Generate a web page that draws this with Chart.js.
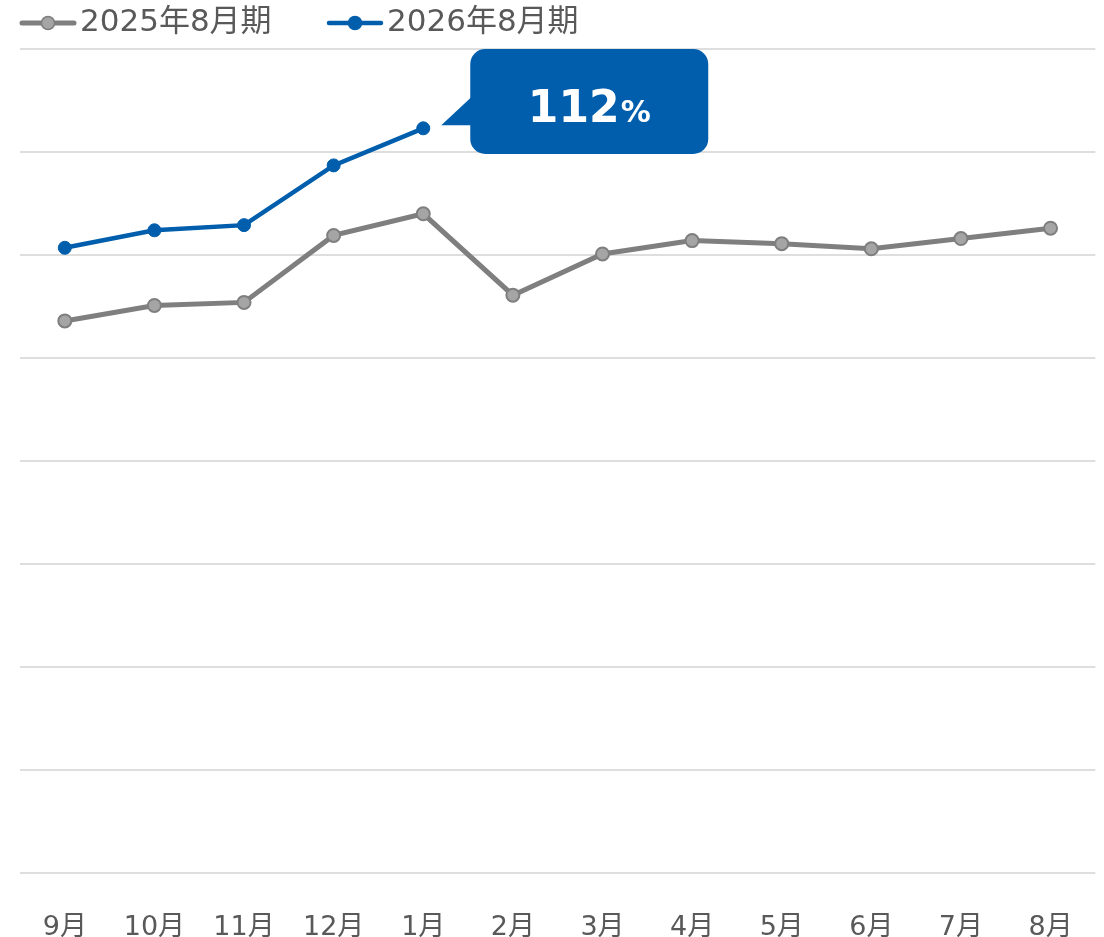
<!DOCTYPE html>
<html>
<head>
<meta charset="utf-8">
<script src="https://cdn.jsdelivr.net/npm/chart.js@4/dist/chart.umd.min.js"></script>
<style>
  html, body { margin: 0; padding: 0; background: #fff; }
  #wrap { width: 1104px; height: 937px; }
</style>
</head>
<body>
<div id="wrap"><canvas id="myChart" width="1104" height="937"></canvas></div>
<script>
const months = ["9月", "10月", "11月", "12月", "1月", "2月", "3月", "4月", "5月", "6月", "7月", "8月"];
const fy2025 = [93.6, 95.1, 95.4, 101.9, 104.0, 96.1, 100.1, 101.4, 101.1, 100.6, 101.6, 102.6];
const fy2026 = [100.7, 102.4, 102.9, 108.7, 112.3, null, null, null, null, null, null, null];
const seriesNames = ["2025年8月期", "2026年8月期"];
const yMin = 40;
const yMax = 120;
const yStep = 10;

const GRAY = "#7f7f7f";
const GRAY_FILL = "#a5a5a5";
const BLUE = "#005eac";
const TEXT = "#595959";
const FONT = "'DejaVu Sans', 'Noto Sans CJK JP', sans-serif";

// legend drawn by hand: line + dot marker, like the office chart
const legendPlugin = {
  id: "lineLegend",
  afterDraw(chart) {
    const ctx = chart.ctx;
    const items = [
      { x: 20, color: GRAY, fill: GRAY_FILL, text: seriesNames[0], lw: 5 },
      { x: 327, color: BLUE, fill: BLUE, text: seriesNames[1], lw: 4.5 },
    ];
    const y = 23;
    ctx.save();
    items.forEach((it) => {
      ctx.strokeStyle = it.color;
      ctx.lineWidth = it.lw;
      ctx.lineCap = "round";
      ctx.beginPath();
      ctx.moveTo(it.x + 2, y);
      ctx.lineTo(it.x + 54, y);
      ctx.stroke();
      ctx.beginPath();
      ctx.arc(it.x + 28, y, 6.5, 0, Math.PI * 2);
      ctx.fillStyle = it.fill;
      ctx.fill();
      ctx.lineWidth = 1.5;
      ctx.stroke();
      ctx.fillStyle = TEXT;
      ctx.font = "31px " + FONT;
      ctx.textBaseline = "middle";
      ctx.textAlign = "left";
      ctx.fillText(it.text, it.x + 60, y);
    });
    ctx.restore();
  },
};

// speech-bubble label for the latest 2026 value
const calloutPlugin = {
  id: "callout",
  afterDatasetsDraw(chart) {
    const meta = chart.getDatasetMeta(1);
    let idx = -1;
    fy2026.forEach((v, i) => { if (v !== null) idx = i; });
    if (idx < 0) return;
    const pt = meta.data[idx];
    const px = pt.x, py = pt.y;
    const ctx = chart.ctx;
    const left = px + 47, top = chart.chartArea.top, w = 238, h = 105, r = 15;
    ctx.save();
    ctx.fillStyle = BLUE;
    ctx.beginPath();
    ctx.roundRect(left, top, w, h, r);
    ctx.fill();
    ctx.beginPath();
    ctx.moveTo(left + 1, py - 31);
    ctx.lineTo(px + 18, py - 3);
    ctx.lineTo(left + 1, py - 3);
    ctx.closePath();
    ctx.fill();

    const num = String(Math.round(fy2026[idx]));
    ctx.fillStyle = "#fff";
    ctx.textBaseline = "alphabetic";
    ctx.textAlign = "left";
    ctx.font = "bold 44px " + FONT;
    const wNum = ctx.measureText(num).width;
    ctx.font = "bold 30px " + FONT;
    const wPct = ctx.measureText("%").width;
    const gap = 1;
    const startX = left + w / 2 - (wNum + gap + wPct) / 2;
    const base = top + 73;
    ctx.font = "bold 44px " + FONT;
    ctx.fillText(num, startX, base);
    ctx.font = "bold 30px " + FONT;
    ctx.fillText("%", startX + wNum + gap, base);
    ctx.restore();
  },
};

const data = {
  labels: months,
  datasets: [
    {
      label: seriesNames[0],
      data: fy2025,
      borderColor: GRAY,
      borderWidth: 5,
      pointRadius: 6.5,
      pointBackgroundColor: GRAY_FILL,
      pointBorderColor: GRAY,
      pointBorderWidth: 2,
      tension: 0,
    },
    {
      label: seriesNames[1],
      data: fy2026,
      borderColor: BLUE,
      borderWidth: 4.5,
      pointRadius: 6.5,
      pointBackgroundColor: BLUE,
      pointBorderColor: BLUE,
      pointBorderWidth: 1,
      tension: 0,
      spanGaps: false,
    },
  ],
};

const config = {
  type: "line",
  data,
  options: {
    responsive: false,
    animation: false,
    layout: { padding: { top: 49, left: 20, right: 2, bottom: 0 } },
    scales: {
      x: {
        offset: true,
        grid: { display: false },
        border: { display: false },
        ticks: {
          color: TEXT,
          font: { family: FONT, size: 27 },
          padding: 31,
          maxRotation: 0,
          autoSkip: false,
        },
        afterFit: (scale) => { scale.height = 64; },
      },
      y: {
        min: yMin,
        max: yMax,
        ticks: { display: false, stepSize: yStep },
        grid: { color: "#dedede", lineWidth: 2, drawTicks: false },
        border: { display: false },
        afterFit: (scale) => { scale.width = 0; },
      },
    },
    plugins: {
      legend: { display: false },
      tooltip: { enabled: false },
    },
  },
  plugins: [legendPlugin, calloutPlugin],
};

const myChart = new Chart(document.getElementById("myChart"), config);
</script>
</body>
</html>
